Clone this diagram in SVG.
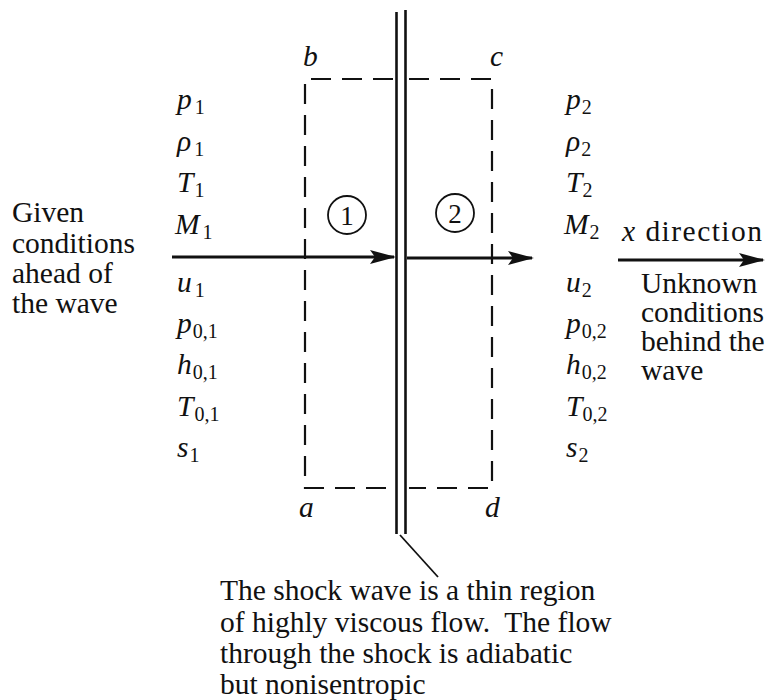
<svg xmlns="http://www.w3.org/2000/svg" width="766" height="700" viewBox="0 0 766 700">
<defs>
<style>
text{font-family:"Liberation Serif","Times New Roman",serif;font-size:29.5px;fill:#111}
.v{font-style:italic}
.s{font-style:normal;font-size:20px}
.dash{fill:none;stroke:#111;stroke-width:2.2;stroke-dasharray:20 11}
.shock{stroke:#111;stroke-width:2.6}
.arrow{stroke:#111;stroke-width:3.2;fill:none}
.circ{fill:none;stroke:#111;stroke-width:1.8}
</style>
<marker id="ah" viewBox="0 0 26 14" refX="24" refY="7" markerWidth="26" markerHeight="14" markerUnits="userSpaceOnUse" orient="auto">
<path d="M0,0 L26,7 L0,14 L5,7 Z" fill="#111"/>
</marker>
</defs>
<rect width="766" height="700" fill="#fff"/>

<g id="given-conditions">
<text x="12" y="222">Given</text>
<text x="12" y="253">conditions</text>
<text x="12" y="283">ahead of</text>
<text x="12" y="313">the wave</text>
</g>

<g id="state-1">
<text x="177" y="109" class="v">p<tspan class="s" dx="3" dy="5">1</tspan></text>
<text x="177" y="151" class="v">ρ<tspan class="s" dx="3" dy="5">1</tspan></text>
<text x="177" y="192" class="v">T<tspan class="s" dx="1" dy="5">1</tspan></text>
<text x="175" y="234" class="v">M<tspan class="s" dx="3" dy="5">1</tspan></text>
<text x="177" y="292" class="v">u<tspan class="s" dx="3" dy="5">1</tspan></text>
<text x="177" y="333" class="v">p<tspan class="s" dx="1" dy="5">0,1</tspan></text>
<text x="177" y="374" class="v">h<tspan class="s" dx="1" dy="5">0,1</tspan></text>
<text x="177" y="416" class="v">T<tspan class="s" dx="1" dy="5">0,1</tspan></text>
<text x="177" y="457" class="v">s<tspan class="s" dx="1" dy="5">1</tspan></text>
</g>

<g id="state-2">
<text x="566" y="109" class="v">p<tspan class="s" dx="1" dy="5">2</tspan></text>
<text x="566" y="151" class="v">ρ<tspan class="s" dx="1" dy="5">2</tspan></text>
<text x="566" y="192" class="v">T<tspan class="s" dx="0" dy="5">2</tspan></text>
<text x="564" y="234" class="v">M<tspan class="s" dx="1" dy="5">2</tspan></text>
<text x="566" y="292" class="v">u<tspan class="s" dx="1" dy="5">2</tspan></text>
<text x="566" y="333" class="v">p<tspan class="s" dx="1" dy="5">0,2</tspan></text>
<text x="566" y="374" class="v">h<tspan class="s" dx="1" dy="5">0,2</tspan></text>
<text x="566" y="416" class="v">T<tspan class="s" dx="0" dy="5">0,2</tspan></text>
<text x="566" y="457" class="v">s<tspan class="s" dx="1" dy="5">2</tspan></text>
</g>

<g id="unknown-conditions">
<text x="622" y="241" textLength="140"><tspan class="v">x</tspan> direction</text>
<text x="641" y="293">Unknown</text>
<text x="641" y="322">conditions</text>
<text x="641" y="351">behind the</text>
<text x="641" y="380">wave</text>
</g>

<g id="control-volume">
<path class="dash" d="M393,79 H305 V488 H393"/>
<path class="dash" d="M409,79 H492 V488 H409"/>
<text x="303" y="66" class="v">b</text>
<text x="490" y="66" class="v">c</text>
<text x="299" y="517" class="v">a</text>
<text x="485" y="517" class="v">d</text>
</g>

<g id="region-1">
<circle class="circ" cx="347" cy="215" r="19"/>
<text x="347" y="225" text-anchor="middle" style="font-size:27px">1</text>
</g>
<g id="region-2">
<circle class="circ" cx="455" cy="213" r="19"/>
<text x="455" y="223" text-anchor="middle" style="font-size:27px">2</text>
</g>

<g id="shock-wave">
<line class="shock" x1="396.5" y1="12" x2="396.5" y2="534"/>
<line class="shock" x1="405.5" y1="10" x2="405.5" y2="534"/>
</g>

<g id="shock-note">
<text x="220" y="600">The shock wave is a thin region</text>
<text x="220" y="632">of highly viscous flow.&#160; The flow</text>
<text x="220" y="663">through the shock is adiabatic</text>
<text x="220" y="694">but nonisentropic</text>
</g>

<g id="connectors">
<line class="arrow" x1="172" y1="257" x2="394" y2="257" marker-end="url(#ah)"/>
<line class="arrow" x1="407" y1="258" x2="532" y2="258" marker-end="url(#ah)"/>
<line class="arrow" x1="618" y1="260" x2="763" y2="260" marker-end="url(#ah)"/>
<line stroke="#111" stroke-width="1.8" x1="400" y1="535" x2="438" y2="577"/>
</g>
</svg>
